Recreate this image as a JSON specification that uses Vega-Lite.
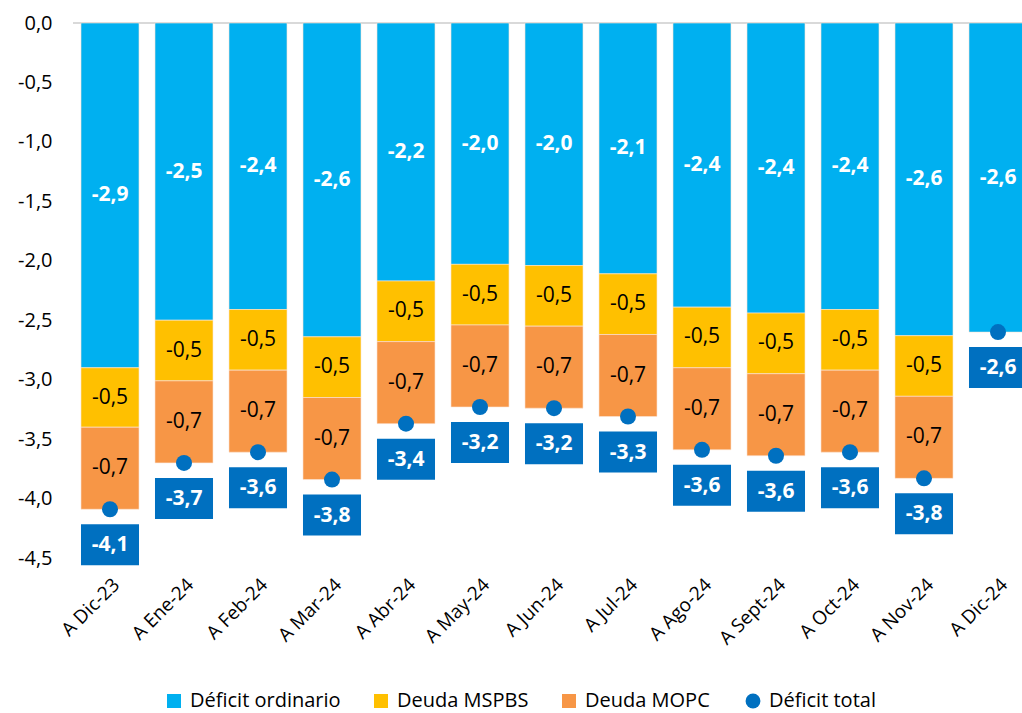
{
  "$schema": "https://vega.github.io/schema/vega-lite/v6.json",
  "autosize": "none",
  "width": 949,
  "height": 535,
  "padding": {"left": 73, "top": 23, "right": 0, "bottom": 155},
  "background": "white",
  "config": {
    "view": {"stroke": null},
    "font": "Open Sans",
    "locale": {"number": {"decimal": ",", "thousands": ".", "grouping": [3], "currency": ["", "$"], "minus": "-"}}
  },
  "resolve": {"scale": {"color": "independent"}, "legend": {"color": "independent"}},
  "datasets": {
    "barras": [
      {"mes": "A Dic-23", "serie": "Déficit ordinario", "valor": -2.90},
      {"mes": "A Dic-23", "serie": "Deuda MSPBS", "valor": -0.50},
      {"mes": "A Dic-23", "serie": "Deuda MOPC", "valor": -0.69},
      {"mes": "A Ene-24", "serie": "Déficit ordinario", "valor": -2.50},
      {"mes": "A Ene-24", "serie": "Deuda MSPBS", "valor": -0.51},
      {"mes": "A Ene-24", "serie": "Deuda MOPC", "valor": -0.69},
      {"mes": "A Feb-24", "serie": "Déficit ordinario", "valor": -2.41},
      {"mes": "A Feb-24", "serie": "Deuda MSPBS", "valor": -0.51},
      {"mes": "A Feb-24", "serie": "Deuda MOPC", "valor": -0.69},
      {"mes": "A Mar-24", "serie": "Déficit ordinario", "valor": -2.64},
      {"mes": "A Mar-24", "serie": "Deuda MSPBS", "valor": -0.51},
      {"mes": "A Mar-24", "serie": "Deuda MOPC", "valor": -0.69},
      {"mes": "A Abr-24", "serie": "Déficit ordinario", "valor": -2.17},
      {"mes": "A Abr-24", "serie": "Deuda MSPBS", "valor": -0.51},
      {"mes": "A Abr-24", "serie": "Deuda MOPC", "valor": -0.69},
      {"mes": "A May-24", "serie": "Déficit ordinario", "valor": -2.03},
      {"mes": "A May-24", "serie": "Deuda MSPBS", "valor": -0.51},
      {"mes": "A May-24", "serie": "Deuda MOPC", "valor": -0.69},
      {"mes": "A Jun-24", "serie": "Déficit ordinario", "valor": -2.04},
      {"mes": "A Jun-24", "serie": "Deuda MSPBS", "valor": -0.51},
      {"mes": "A Jun-24", "serie": "Deuda MOPC", "valor": -0.69},
      {"mes": "A Jul-24", "serie": "Déficit ordinario", "valor": -2.11},
      {"mes": "A Jul-24", "serie": "Deuda MSPBS", "valor": -0.51},
      {"mes": "A Jul-24", "serie": "Deuda MOPC", "valor": -0.69},
      {"mes": "A Ago-24", "serie": "Déficit ordinario", "valor": -2.39},
      {"mes": "A Ago-24", "serie": "Deuda MSPBS", "valor": -0.51},
      {"mes": "A Ago-24", "serie": "Deuda MOPC", "valor": -0.69},
      {"mes": "A Sept-24", "serie": "Déficit ordinario", "valor": -2.44},
      {"mes": "A Sept-24", "serie": "Deuda MSPBS", "valor": -0.51},
      {"mes": "A Sept-24", "serie": "Deuda MOPC", "valor": -0.69},
      {"mes": "A Oct-24", "serie": "Déficit ordinario", "valor": -2.41},
      {"mes": "A Oct-24", "serie": "Deuda MSPBS", "valor": -0.51},
      {"mes": "A Oct-24", "serie": "Deuda MOPC", "valor": -0.69},
      {"mes": "A Nov-24", "serie": "Déficit ordinario", "valor": -2.63},
      {"mes": "A Nov-24", "serie": "Deuda MSPBS", "valor": -0.51},
      {"mes": "A Nov-24", "serie": "Deuda MOPC", "valor": -0.69},
      {"mes": "A Dic-24", "serie": "Déficit ordinario", "valor": -2.60}
    ],
    "totales": [
      {"mes": "A Dic-23", "total": -4.09},
      {"mes": "A Ene-24", "total": -3.70},
      {"mes": "A Feb-24", "total": -3.61},
      {"mes": "A Mar-24", "total": -3.84},
      {"mes": "A Abr-24", "total": -3.37},
      {"mes": "A May-24", "total": -3.23},
      {"mes": "A Jun-24", "total": -3.24},
      {"mes": "A Jul-24", "total": -3.31},
      {"mes": "A Ago-24", "total": -3.59},
      {"mes": "A Sept-24", "total": -3.64},
      {"mes": "A Oct-24", "total": -3.61},
      {"mes": "A Nov-24", "total": -3.83},
      {"mes": "A Dic-24", "total": -2.60}
    ]
  },
  "encoding": {
    "x": {
      "field": "mes", "type": "nominal", "sort": null,
      "scale": {"range": [0, 962], "paddingInner": 0.216, "paddingOuter": 0.108},
      "axis": {"title": null, "labelAngle": -45, "labelFontSize": 19, "labelFont": "Open Sans", "labelColor": "#000000", "domain": false, "ticks": false, "labelPadding": 17}
    }
  },
  "layer": [
    {
      "data": {"name": "totales"},
      "mark": {"type": "rule", "color": "#D9D9D9", "strokeWidth": 1.5},
      "encoding": {"x": {"value": 0}, "x2": {"value": 962}, "y": {"datum": 0}}
    },
    {
      "data": {"name": "barras"},
      "mark": {"type": "bar", "stroke": "#FBE5D6", "strokeWidth": 0.6},
      "encoding": {
        "y": {
          "field": "valor", "type": "quantitative", "stack": "zero",
          "scale": {"domain": [-4.5, 0], "nice": false, "zero": false},
          "axis": {"title": null, "values": [0, -0.5, -1, -1.5, -2, -2.5, -3, -3.5, -4, -4.5], "format": ".1f", "labelFontSize": 20, "labelFont": "Open Sans", "labelColor": "#000000", "domain": false, "ticks": false, "grid": false, "labelPadding": 21}
        },
        "color": {
          "field": "serie", "type": "nominal",
          "scale": {"domain": ["Déficit ordinario", "Deuda MSPBS", "Deuda MOPC"], "range": ["#00B0F0", "#FFC000", "#F79646"]},
          "legend": {
            "title": null, "orient": "none", "legendX": 91, "legendY": 668, "direction": "horizontal",
            "symbolType": "square", "symbolSize": 196, "symbolStrokeWidth": 0,
            "labelFontSize": 20, "labelFont": "Open Sans", "labelColor": "#000000", "labelOffset": 6, "columnPadding": 30, "labelLimit": 250
          }
        }
      }
    },
    {
      "data": {"name": "barras"},
      "mark": {"type": "text", "font": "Open Sans", "fontSize": 21, "fontWeight": "bold", "baseline": "middle"},
      "encoding": {
        "y": {"field": "valor", "type": "quantitative", "stack": "zero", "bandPosition": 0.5},
        "color": {"field": "serie", "type": "nominal", "scale": {"domain": ["Déficit ordinario", "Deuda MSPBS", "Deuda MOPC"], "range": ["#FFFFFF", "#000000", "#000000"]}, "legend": null},
        "text": {"field": "valor", "type": "quantitative", "format": ".1f"},
        "opacity": {"condition": {"test": "datum.serie === 'Déficit ordinario'", "value": 1}, "value": 0}
      }
    },
    {
      "data": {"name": "barras"},
      "mark": {"type": "text", "font": "Open Sans", "fontSize": 21, "baseline": "middle"},
      "encoding": {
        "y": {"field": "valor", "type": "quantitative", "stack": "zero", "bandPosition": 0.5},
        "color": {"field": "serie", "type": "nominal", "scale": {"domain": ["Déficit ordinario", "Deuda MSPBS", "Deuda MOPC"], "range": ["#FFFFFF", "#000000", "#000000"]}, "legend": null},
        "text": {"field": "valor", "type": "quantitative", "format": ".1f"},
        "opacity": {"condition": {"test": "datum.serie !== 'Déficit ordinario'", "value": 1}, "value": 0}
      }
    },
    {
      "data": {"name": "totales"},
      "mark": {"type": "bar", "color": "#0070C0", "yOffset": 15, "y2Offset": 56},
      "encoding": {
        "y": {"field": "total", "type": "quantitative"},
        "y2": {"field": "total"}
      }
    },
    {
      "data": {"name": "totales"},
      "mark": {"type": "point", "filled": true, "size": 256, "opacity": 1, "shape": "circle"},
      "encoding": {
        "y": {"field": "total", "type": "quantitative"},
        "color": {
          "datum": "Déficit total", "type": "nominal",
          "scale": {"domain": ["Déficit total"], "range": ["#0070C0"]},
          "legend": {
            "title": null, "orient": "none", "legendX": 670, "legendY": 668, "direction": "horizontal",
            "symbolType": "circle", "symbolSize": 220, "symbolStrokeWidth": 0,
            "labelFontSize": 20, "labelFont": "Open Sans", "labelColor": "#000000", "labelOffset": 6, "labelLimit": 250
          }
        }
      }
    },
    {
      "data": {"name": "totales"},
      "mark": {"type": "text", "font": "Open Sans", "fontSize": 21, "fontWeight": "bold", "color": "white", "baseline": "middle", "yOffset": 36},
      "encoding": {
        "y": {"field": "total", "type": "quantitative"},
        "text": {"field": "total", "type": "quantitative", "format": ".1f"}
      }
    }
  ]
}
